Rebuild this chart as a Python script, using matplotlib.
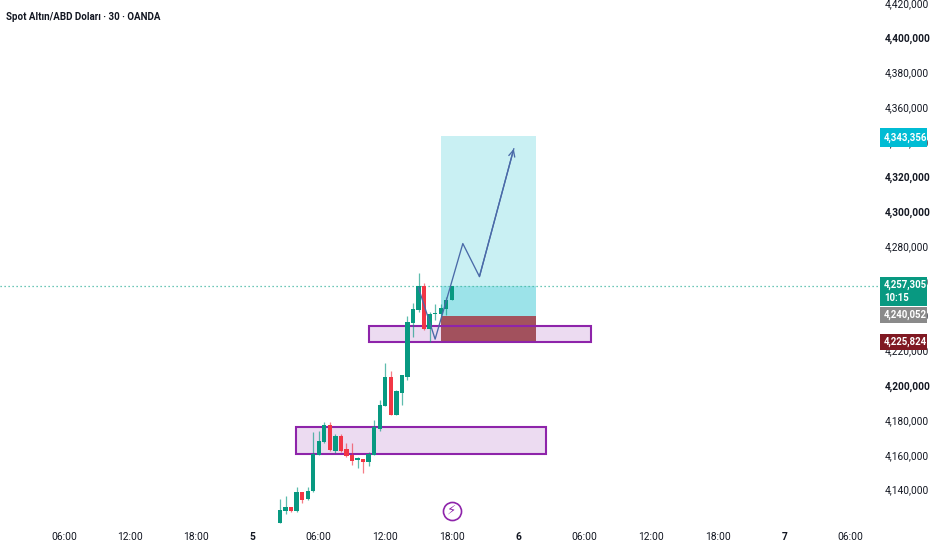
import matplotlib
matplotlib.use("Agg")
import matplotlib.pyplot as plt
from matplotlib.patches import Rectangle
from matplotlib.transforms import blended_transform_factory

plt.rcParams['font.family'] = ['Roboto', 'DejaVu Sans']

opens  = [4121.0,4127.9,4129.8,4127.5,4138.3,4134.4,4139.0,4160.1,4167.4,4177.2,4162.4,4170.7,4163.6,4160.0,4157.1,4157.4,4155.9,4160.1,4174.9,4188.1,4205.0,4183.0,4195.8,4205.0,4235.9,4243.0,4256.8,4232.4,4240.8,4241.1,4243.9,4249.1]
closes = [4128.5,4129.8,4127.5,4138.3,4134.2,4139.4,4160.5,4168.2,4177.4,4163.0,4170.7,4162.4,4159.4,4156.3,4157.8,4155.7,4160.5,4175.8,4188.7,4205.0,4183.0,4196.4,4205.6,4236.6,4243.9,4256.8,4232.4,4240.7,4241.6,4244.3,4249.3,4257.3]
highs  = [4134.8,4136.0,4130.2,4141.2,4138.6,4141.7,4173.0,4173.9,4178.7,4178.9,4172.0,4172.0,4167.0,4166.6,4158.6,4157.8,4161.5,4180.1,4191.6,4212.6,4208.4,4197.3,4206.1,4239.7,4247.2,4264.6,4258.7,4242.0,4246.8,4247.0,4251.0,4257.3]
lows   = [4121.0,4126.2,4126.9,4127.3,4132.1,4134.2,4138.8,4160.1,4166.6,4162.4,4161.3,4161.5,4158.6,4154.4,4152.5,4149.6,4153.4,4160.1,4173.9,4188.1,4182.6,4183.0,4188.9,4203.1,4228.0,4242.0,4232.0,4224.7,4237.6,4240.1,4240.5,4249.1]

last_price = 4257.305
target = 4343.356
entry = 4240.052
stop = 4225.0

zone_upper = (16.0, 56.2, 4224.9, 4233.8)
zone_lower = (2.9, 48.0, 4160.4, 4176.0)
position_span = (29.06, 46.2)

path_x = [25.0, 28.0, 33.0, 36.0, 42.2]
path_y = [4256.0, 4226.5, 4281.5, 4262.5, 4336.0]

price_ticks = [4420, 4400, 4380, 4360, 4340, 4320, 4300, 4280, 4260, 4240, 4220, 4200, 4180, 4160, 4140]
bold_ticks = [4400, 4320, 4300, 4200]
time_pos = [-39.0, -27.1, -15.2, -5.05, 7.0, 19.0, 31.0, 43.0, 55.0, 67.0, 79.0, 91.0, 103.0]
time_lab = ['06:00','12:00','18:00','5','06:00','12:00','18:00','6','06:00','12:00','18:00','7','06:00']

UP = '#089981'
DOWN = '#f23645'
TXT = '#131722'
PURPLE = '#8e24aa'

fig = plt.figure(figsize=(9.32, 5.5), dpi=100, facecolor='white')
ax = fig.add_axes([0, 25/550, 878/932, 525/550])
ax.set_xlim(-50.54, 107.94)
ax.set_ylim(4119.6, 4421.6)
for s in ax.spines.values():
    s.set_visible(False)

# long position
x0, x1 = position_span
ax.add_patch(Rectangle((x0, entry), x1-x0, target-entry, fc='#b8ebf0', alpha=0.75, ec='none', zorder=1))
ax.add_patch(Rectangle((x0, entry), x1-x0, last_price-entry, fc='#7fdbe3', alpha=0.6, ec='none', zorder=1.1))
ax.add_patch(Rectangle((x0, stop), x1-x0, entry-stop, fc='#9e4a55', ec='none', zorder=2.6, alpha=0.95))

# zones
for z in (zone_upper, zone_lower):
    ax.add_patch(Rectangle((z[0], z[2]), z[1]-z[0], z[3]-z[2], fc=PURPLE, alpha=0.16, ec='none', zorder=2))
    ax.add_patch(Rectangle((z[0], z[2]), z[1]-z[0], z[3]-z[2], fc='none', ec=PURPLE, lw=1.5, zorder=3))

ax.axhline(last_price, color='#3fb5a0', lw=0.9, ls=(0, (1, 2.2)), zorder=2.2)

# candles
for i, (o, c, h, l) in enumerate(zip(opens, closes, highs, lows)):
    col = UP if c >= o else DOWN
    ax.plot([i, i], [l, h], color=col, lw=0.9, alpha=0.65, solid_capstyle='butt', zorder=4)
    ax.add_patch(Rectangle((i-0.39, min(o, c)), 0.78, max(abs(c-o), 0.8), fc=col, ec='none', zorder=4.1))

# projected path
ax.plot(path_x, path_y, color='#4a6aa8', lw=0.95, zorder=5)
ax.annotate('', xy=(path_x[-1], path_y[-1]), xytext=(path_x[-2], path_y[-2]),
            arrowprops=dict(arrowstyle='->,head_length=0.45,head_width=0.22', color='#4a6aa8', lw=0.95,
                            shrinkA=0, shrinkB=0, mutation_scale=10), zorder=5)

# axes
ax.yaxis.tick_right()
ax.set_yticks(price_ticks)
ax.set_yticklabels([f'{p:,}' + ',000' for p in price_ticks], fontsize=7.3, color=TXT)
for lab, p in zip(ax.get_yticklabels(), price_ticks):
    if p in bold_ticks:
        lab.set_fontweight('bold')
ax.tick_params(axis='y', length=0, pad=5)
ax.set_xticks(time_pos)
ax.set_xticklabels(time_lab, fontsize=7.4, color=TXT)
ax.tick_params(axis='x', length=0, pad=5)
for lab, t in zip(ax.get_xticklabels(), time_lab):
    if len(t) == 1:
        lab.set_fontweight('bold')
ax.grid(False)

# badges
fx = lambda px: px / 932
tr = blended_transform_factory(fig.transFigure, ax.transData)
def badge(y, text, fc, h_units, dy_units=0.0):
    yc = y + dy_units
    ax.add_patch(Rectangle((fx(880), yc - h_units/2), fx(47), h_units, transform=tr, fc=fc, ec='none',
                           clip_on=False, zorder=11))
    ax.text(fx(884), yc, text, transform=tr, ha='left', va='center', multialignment='left', fontsize=6.9,
            fontweight='bold', color='white', clip_on=False, linespacing=1.35, zorder=12)

badge(target, '4,343,356', '#00bcd4', 11.2, dy_units=-1.0)
badge(stop, '4,225,824', '#801922', 9.2)
badge(last_price, '4,257,305\n10:15', UP, 16.6, dy_units=-3.2)
badge(entry, '4,240,052', '#8a8a8a', 9.2, dy_units=0.5)

# title
fig.text(6/932, 1-17/550, 'Spot Altın/ABD Doları · 30 · OANDA', fontsize=7.0, fontweight='bold', color=TXT, ha='left', va='center')

# lightning marker
ax.plot([31], [4127.9], marker='o', ms=13, mfc='white', mec=PURPLE, mew=1.2, clip_on=False, zorder=6)
ax.text(31, 4127.9, '\u26a1', family='DejaVu Sans', fontsize=9.5, color=PURPLE, ha='center', va='center', zorder=7, clip_on=False)

fig.savefig('out.png', dpi=100, facecolor='white')
